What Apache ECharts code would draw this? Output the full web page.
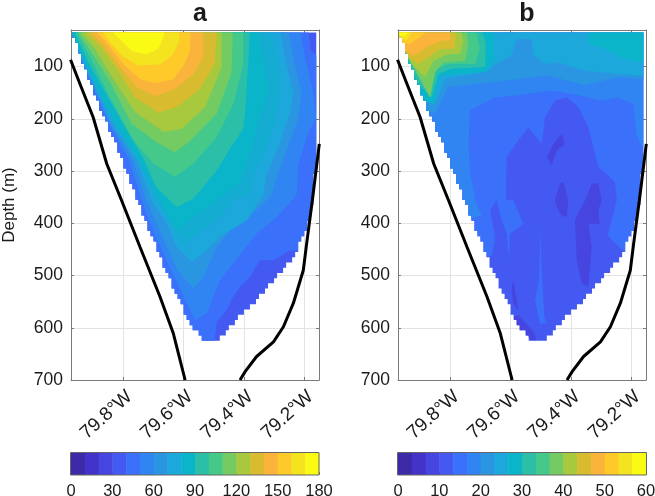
<!DOCTYPE html>
<html><head><meta charset="utf-8">
<style>html,body{margin:0;padding:0;background:#fff}#c{width:655px;height:496px}</style>
<script src="https://cdn.jsdelivr.net/npm/echarts@6/dist/echarts.min.js"></script>
</head><body><div id="c"></div>
<script>
const palette=['#3d2aa6','#4333c8','#4745e0','#4459f2','#3b70fb','#3085f2','#2a96e2','#1ca8da','#0ab5c9','#2bbfa8','#45c98a','#74cb62','#a8c93e','#d8bb2f','#fab43b','#fdca2a','#f4e31f','#f9fb15'];
const midCyan='#14acd0';
const depthTicks=[100,200,300,400,500,600,700];
const lonTicks=[79.8,79.6,79.4,79.2];
// sampled section outline [lon, depth]
const edgeLeft=[[79.97,35],[79.93,100],[79.89,160],[79.853,210],[79.803,280],[79.754,356],[79.723,400],[79.651,500],[79.573,600],[79.527,625]];
const edgeRight=[[79.157,35],[79.157,260],[79.162,280],[79.173,356],[79.186,399],[79.212,436],[79.236,464],[79.291,501],[79.347,541],[79.408,572],[79.482,625]];
// bathymetry
const bottomLeft=[[79.975,87],[79.944,133],[79.9,197],[79.855,286],[79.806,356],[79.745,445],[79.678,541],[79.634,611],[79.595,700]];
const bottomRight=[[79.413,700],[79.396,684],[79.358,655],[79.302,627],[79.269,598],[79.236,553],[79.203,490],[79.192,439],[79.173,356],[79.15,248]];
// panel a: filled contours [lon, depth], each is the region at or above a level
const a4=[[79.186,30],[79.179,69],[79.14,88],[79.14,452],[79.225,452],[79.247,452],[79.302,471],[79.347,471],[79.38,503],[79.408,518],[79.436,541],[79.457,566],[79.49,589],[79.501,640],[80,640],[80,30]];
const a5=[[79.98,30],[79.93,100],[79.848,210],[79.78,280],[79.739,356],[79.712,400],[79.634,500],[79.562,585],[79.523,572],[79.48,509],[79.358,420],[79.291,388],[79.225,346],[79.22,289],[79.186,225],[79.161,200],[79.17,149],[79.197,85],[79.214,30]];
const a6=[[79.98,30],[79.93,100],[79.842,210],[79.768,280],[79.723,356],[79.69,400],[79.62,490],[79.568,525],[79.535,503],[79.49,445],[79.436,407],[79.358,375],[79.308,346],[79.297,321],[79.253,251],[79.22,200],[79.209,149],[79.236,85],[79.253,30]];
const a7=[[79.975,30],[79.925,100],[79.836,210],[79.755,280],[79.706,356],[79.656,400],[79.623,445],[79.573,474],[79.524,452],[79.48,426],[79.39,394],[79.336,346],[79.325,308],[79.28,245],[79.247,187],[79.236,149],[79.264,85],[79.28,30]];
const a7x=[[79.974,30],[79.923,100],[79.83,210],[79.75,280],[79.69,356],[79.645,400],[79.60,440],[79.568,426],[79.49,394],[79.435,356],[79.38,346],[79.369,308],[79.325,257],[79.297,206],[79.28,149],[79.286,85],[79.319,30]];
const a8=[[79.972,30],[79.92,101],[79.825,210],[79.745,280],[79.678,356],[79.634,400],[79.623,417],[79.568,388],[79.49,356],[79.413,321],[79.369,245],[79.347,200],[79.319,149],[79.33,104],[79.352,30]];
const a9=[[79.966,30],[79.916,92],[79.81,200],[79.73,280],[79.69,331],[79.623,369],[79.568,353],[79.49,299],[79.446,257],[79.402,219],[79.396,187],[79.385,85],[79.38,30]];
const a10=[[79.96,30],[79.91,82],[79.844,159],[79.767,241],[79.70,286],[79.629,311],[79.568,286],[79.49,235],[79.435,171],[79.402,95],[79.402,30]];
const a11=[[79.955,30],[79.905,73],[79.844,130],[79.772,210],[79.69,245],[79.629,264],[79.584,245],[79.49,190],[79.441,111],[79.437,30]];
const a12=[[79.946,30],[79.894,66],[79.833,124],[79.761,187],[79.667,225],[79.606,219],[79.529,178],[79.474,101],[79.474,30]];
const a13=[[79.933,30],[79.877,60],[79.822,104],[79.761,159],[79.684,188],[79.623,178],[79.546,143],[79.496,95],[79.49,30]];
const a14=[[79.916,30],[79.866,57],[79.817,95],[79.756,139],[79.695,157],[79.629,143],[79.568,114],[79.535,82],[79.535,30]];
const a15=[[79.894,30],[79.855,54],[79.80,95],[79.745,124],[79.695,132],[79.634,124],[79.60,98],[79.579,70],[79.577,30]];
const a16=[[79.872,30],[79.844,54],[79.80,81],[79.75,98],[79.678,96],[79.634,76],[79.614,50],[79.614,30]];
const a17=[[79.844,30],[79.80,54],[79.772,70],[79.723,77],[79.684,66],[79.665,40],[79.662,30]];
const fieldA=[[3,[[80,30],[80,640],[79.1,640],[79.1,30]]],[4,a4],[5,a5],[6,a6],[7,a7],[midCyan,a7x],[8,a8],[9,a9],[10,a10],[11,a11],[12,a12],[13,a13],[14,a14],[15,a15],[16,a16],[17,a17]];
// panel b
const b4=[[79.989,30],[79.99,467],[79.696,467],[79.661,461],[79.652,426],[79.668,375],[79.646,356],[79.63,394],[79.613,420],[79.605,471],[79.602,420],[79.558,401],[79.591,356],[79.616,356],[79.613,273],[79.574,241],[79.541,216],[79.497,248],[79.486,197],[79.453,165],[79.414,159],[79.375,178],[79.342,216],[79.326,254],[79.309,292],[79.254,321],[79.248,356],[79.278,423],[79.265,432],[79.226,452],[79.21,460],[79.1,460],[79.1,30]];
const b5=[[79.989,30],[79.99,394],[79.751,394],[79.696,385],[79.718,356],[79.735,299],[79.74,248],[79.735,184],[79.652,159],[79.574,155],[79.464,146],[79.398,152],[79.298,165],[79.243,159],[79.193,171],[79.182,229],[79.165,254],[79.1,254],[79.1,30]];
const b6=[[79.989,30],[79.906,178],[79.851,190],[79.807,139],[79.663,130],[79.541,122],[79.475,117],[79.353,136],[79.243,120],[79.1,127],[79.1,30]];
const b7=[[79.989,30],[79.873,165],[79.851,171],[79.818,124],[79.685,111],[79.646,95],[79.597,79],[79.58,47],[79.53,47],[79.525,79],[79.486,95],[79.442,92],[79.353,108],[79.243,114],[79.1,120],[79.1,30]];
const b8a=[[79.989,30],[79.895,165],[79.856,171],[79.834,117],[79.679,110],[79.654,82],[79.657,30]];
const b8b=[[79.342,30],[79.34,57],[79.287,66],[79.221,86],[79.1,98],[79.1,30]];
const b9=[[79.989,30],[79.906,133],[79.862,159],[79.84,114],[79.796,104],[79.685,101],[79.682,57],[79.696,30]];
const b10=[[79.989,30],[79.912,108],[79.862,139],[79.845,104],[79.807,95],[79.718,95],[79.702,66],[79.716,30]];
const b11=[[79.989,30],[79.923,101],[79.867,159],[79.851,111],[79.823,92],[79.751,89],[79.74,57],[79.746,30]];
const b12=[[79.989,30],[79.928,95],[79.884,120],[79.856,89],[79.807,76],[79.768,76],[79.757,54],[79.765,30]];
const b13=[[79.989,30],[79.939,82],[79.906,95],[79.873,82],[79.834,66],[79.785,66],[79.782,30]];
const b14=[[79.989,30],[79.95,69],[79.923,79],[79.878,63],[79.829,50],[79.801,50],[79.801,30]];
const b15=[[79.989,30],[79.956,54],[79.934,57],[79.901,44],[79.873,30]];
const b16=[[79.989,30],[79.959,47],[79.945,50],[79.923,30]];
const b17=[[79.989,30],[79.964,41],[79.95,41],[79.934,30]];
const b2p=[[79.431,229],[79.42,248],[79.447,261],[79.464,289],[79.48,273],[79.458,248]];
const b2q=[[79.453,356],[79.436,324],[79.425,321],[79.409,356],[79.414,388],[79.431,385],[79.447,369]];
const b2r=[[79.353,356],[79.331,324],[79.309,324],[79.298,356],[79.309,375],[79.304,401],[79.342,401],[79.331,445],[79.342,522],[79.364,515],[79.381,471],[79.387,394],[79.414,388],[79.387,394]];
const b2s=[[79.591,509],[79.574,566],[79.591,554],[79.597,528]];
const b2t=[[79.574,576],[79.525,607],[79.514,624],[79.53,624],[79.574,604],[79.591,579]];
const b4u=[[79.503,404],[79.495,509],[79.488,579],[79.48,592],[79.503,592],[79.519,547],[79.506,509],[79.503,452]];
const fieldB=[[3,[[80,30],[80,640],[79.1,640],[79.1,30]]],[4,b4],[5,b5],[6,b6],[7,b7],[8,b8a],[8,b8b],[9,b9],[10,b10],[11,b11],[12,b12],[13,b13],[14,b14],[15,b15],[16,b16],[17,b17],[2,b2p],[2,b2q],[2,b2r],[2,b2s],[2,b2t],[4,b4u]];

function lookup(edge,d){
  for(let i=1;i<edge.length;i++){ if(d<=edge[i][1]){const p=edge[i-1],q=edge[i];return p[0]+(q[0]-p[0])*(d-p[1])/(q[1]-p[1]);}}
  return edge[edge.length-1][0];
}
function outline(){
  const L=[],R=[];
  for(let d=35;d<625;d+=10){
    const l=Math.round(lookup(edgeLeft,d+5)*100)/100, r=Math.round(lookup(edgeRight,d+5)*100)/100;
    L.push([l,d],[l,d+10]); R.push([r,d],[r,d+10]);
  }
  return L.concat(R.reverse());
}
const mask=outline();
const XMIN=79.151,XMAX=79.9735;
const FONT='"Liberation Sans", Arial, sans-serif', TXT='#1a1a1a', AX='#7a7a7a';
function field(list,gi){return {type:'custom',xAxisIndex:gi*2,yAxisIndex:gi*2,coordinateSystem:'cartesian2d',silent:true,z:3,animation:false,
  data:list.map((_,i)=>[i]),encode:{x:[],y:[]},
  renderItem(p,api){
    const f=list[p.dataIndex];
    return {type:'polygon',shape:{points:f[1].map(q=>api.coord(q))},style:{fill:typeof f[0]==='string'?f[0]:palette[f[0]],stroke:null},
      clipPath:{type:'polygon',shape:{points:mask.map(q=>api.coord(q))}}};
  }};}
function bar(gi,maxV){
  const step=maxV/18,d=palette.map((c,i)=>[i*step,(i+1)*step,i]);
  return {type:'custom',xAxisIndex:gi,yAxisIndex:gi,silent:true,z:3,animation:false,data:d,encode:{x:[0,1]},
    renderItem(p,api){const a=api.coord([api.value(0),0]),b=api.coord([api.value(1),1]);
      return {type:'rect',shape:{x:a[0],y:b[1],width:b[0]-a[0]+0.5,height:a[1]-b[1]},style:{fill:palette[api.value(2)]}};}};
}
function line(pts,gi){return {type:'line',xAxisIndex:gi*2,yAxisIndex:gi*2,data:pts,showSymbol:false,symbol:'none',silent:true,z:6,animation:false,clip:true,lineStyle:{color:'#000',width:3}};}
const grids=[{left:71,right:336,top:30,bottom:116},{left:398,right:9,top:30,bottom:116},
             {left:71,right:336,top:453,height:22},{left:398,right:9,top:453,height:22}].map(g=>Object.assign(g,{outerBoundsMode:'none'}));
const xAxes=[],yAxes=[];
[0,1].forEach(i=>{
  const common={type:'value',gridIndex:i,inverse:true,min:XMIN,max:XMAX,axisLine:{show:true,onZero:false,lineStyle:{color:AX,width:1}}};
  xAxes.push(Object.assign({},common,{position:'bottom',
    axisTick:{show:true,inside:true,length:3,customValues:lonTicks,lineStyle:{color:AX}},
    axisLabel:{show:true,rotate:42,customValues:lonTicks,margin:7,fontSize:19,fontFamily:FONT,color:TXT,verticalAlign:'top',formatter:v=>v.toFixed(1)+'°W'},
    splitLine:{show:true,lineStyle:{color:'#e3e3e3',width:1}}}));
  xAxes.push(Object.assign({},common,{position:'top',axisTick:{show:true,inside:true,length:3,customValues:lonTicks,lineStyle:{color:AX}},axisLabel:{show:false},splitLine:{show:false}}));
  const yc={type:'value',gridIndex:i,inverse:true,min:30,max:700,axisLine:{show:true,onZero:false,lineStyle:{color:AX,width:1}}};
  yAxes.push(Object.assign({},yc,{position:'left',name:i===0?'Depth (m)':'',nameLocation:'middle',nameGap:53,nameTextStyle:{fontSize:17,fontFamily:FONT,color:TXT},
    axisTick:{show:true,inside:true,length:3,customValues:depthTicks,lineStyle:{color:AX}},
    axisLabel:{show:true,customValues:depthTicks,margin:8,fontSize:17.5,fontFamily:FONT,color:TXT},
    splitLine:{show:true,lineStyle:{color:'#e3e3e3',width:1}}}));
  yAxes.push(Object.assign({},yc,{position:'right',axisTick:{show:true,inside:true,length:3,customValues:depthTicks,lineStyle:{color:AX}},axisLabel:{show:false},splitLine:{show:false}}));
});
[[2,180,30],[3,60,10]].forEach(([g,m,st])=>{
  xAxes.push({type:'value',gridIndex:g,min:0,max:m,interval:st,position:'bottom',axisLine:{show:false,onZero:false},
    axisTick:{show:true,inside:true,length:3,lineStyle:{color:'#333'}},axisLabel:{show:true,margin:8,fontSize:16.5,fontFamily:FONT,color:TXT,showMinLabel:true,showMaxLabel:true},splitLine:{show:false}});
  yAxes.push({type:'value',gridIndex:g,min:0,max:1,show:false});
});
const chart=echarts.init(document.getElementById('c'),null,{renderer:'canvas'});
chart.setOption({animation:false,backgroundColor:'#fff',
  title:[{text:'a',left:195,top:-3,textAlign:'center',textStyle:{fontSize:25,fontWeight:'bold',color:TXT,fontFamily:FONT}},
         {text:'b',left:522,top:-3,textAlign:'center',textStyle:{fontSize:25,fontWeight:'bold',color:TXT,fontFamily:FONT}}],
  grid:grids,xAxis:xAxes,yAxis:yAxes,
  graphic:[{type:'rect',z:20,silent:true,shape:{x:70.5,y:452.5,width:248.5,height:22.5},style:{fill:null,stroke:'#666',lineWidth:1}},
           {type:'rect',z:20,silent:true,shape:{x:397.5,y:452.5,width:249,height:22.5},style:{fill:null,stroke:'#666',lineWidth:1}}],
  series:[field(fieldA,0),field(fieldB,1),line(bottomLeft,0),line(bottomRight,0),line(bottomLeft,1),line(bottomRight,1),
    bar(4,180),bar(5,60),
    {type:'line',xAxisIndex:1,yAxisIndex:1,data:[],silent:true},{type:'line',xAxisIndex:3,yAxisIndex:3,data:[],silent:true}]});
</script></body></html>
